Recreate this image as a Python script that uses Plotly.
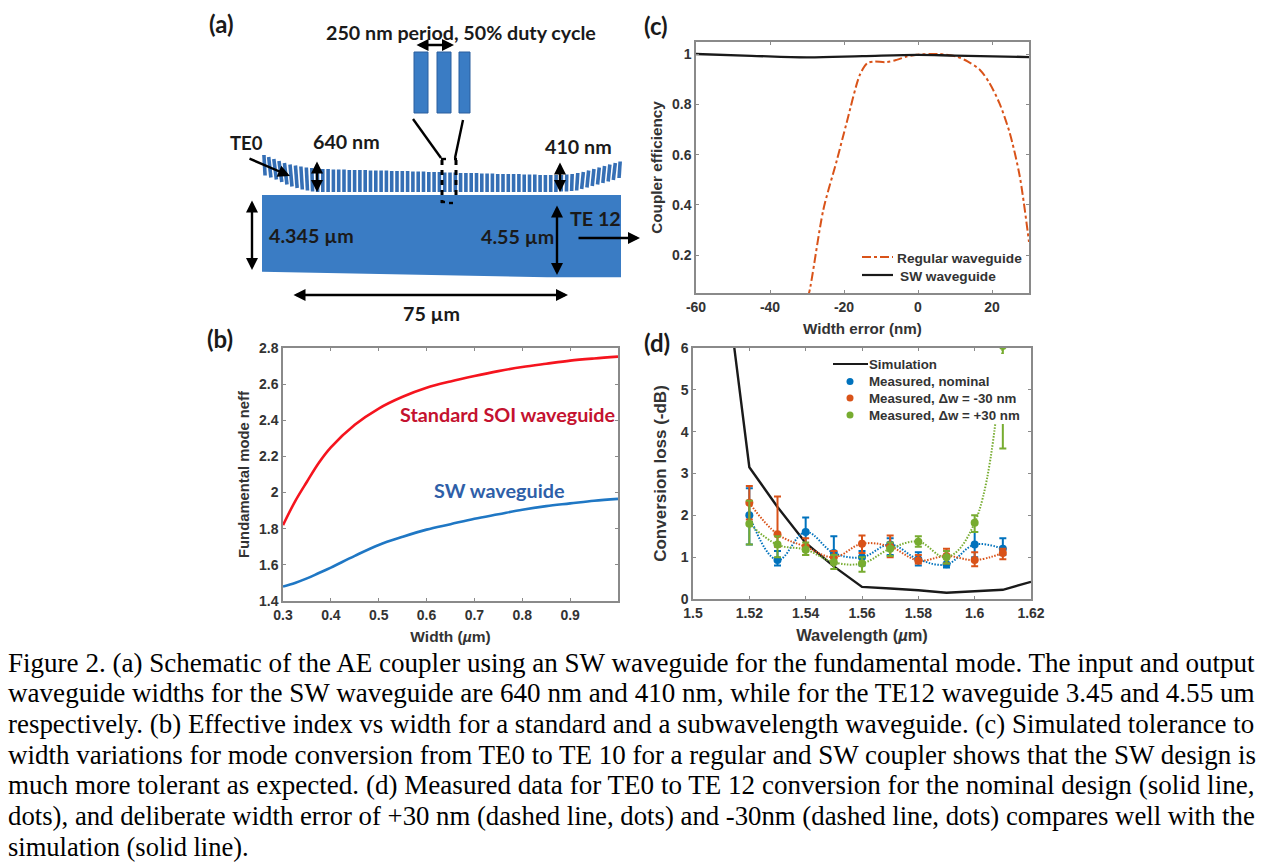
import plotly.graph_objects as go

PAGE_W = 1264
PAGE_H = 866

# (b) effective index vs width
width_um = [0.3, 0.325, 0.35, 0.375, 0.4, 0.45, 0.5, 0.55, 0.6, 0.65, 0.7, 0.75, 0.8, 0.85, 0.9, 0.95, 1.0]
neff_soi = [1.82, 1.95, 2.06, 2.165, 2.25, 2.375, 2.465, 2.53, 2.58, 2.615, 2.645, 2.672, 2.695, 2.713, 2.73, 2.742, 2.752]
neff_sw = [1.48, 1.5, 1.525, 1.555, 1.585, 1.65, 1.71, 1.755, 1.795, 1.825, 1.855, 1.88, 1.905, 1.925, 1.94, 1.955, 1.965]

# (c) coupler efficiency vs width error
err_regular = [-30, -29.4, -25.6, -22, -19.3, -15.7, -13.7, -12, -8.5, -5.8, -3.1, -0.4, 3.2, 5.9, 10.4, 13.5, 16.7, 19.3, 22, 24.8, 27.5, 30]
eff_regular = [0.03, 0.053, 0.38, 0.574, 0.726, 0.918, 0.964, 0.97, 0.968, 0.977, 0.99, 0.997, 1.0, 1.0, 0.99, 0.97, 0.938, 0.885, 0.805, 0.686, 0.514, 0.253]
err_sw = [-60, -45, -30, -15, 0, 10, 30]
eff_sw = [1.0, 0.993, 0.987, 0.992, 0.997, 0.994, 0.988]

# (d) conversion loss vs wavelength
wl_sim = [1.51, 1.52, 1.53, 1.54, 1.55, 1.56, 1.57, 1.58, 1.59, 1.6, 1.61, 1.62]
loss_sim = [8.5, 3.15, 2.2, 1.34, 0.78, 0.29, 0.25, 0.21, 0.15, 0.19, 0.22, 0.41]
wl_meas = [1.52, 1.53, 1.54, 1.55, 1.56, 1.57, 1.58, 1.59, 1.6, 1.61]
loss_nom = [2.0, 0.93, 1.6, 1.1, 1.0, 1.3, 0.95, 0.83, 1.3, 1.2]
nom_plus = [0.65, 0.22, 0.35, 0.4, 0.15, 0.15, 0.17, 0.17, 0.3, 0.25]
nom_minus = [0.7, 0.13, 0.35, 0.25, 0.2, 0.25, 0.15, 0.08, 0.3, 0.15]
loss_minus30 = [2.3, 1.55, 1.25, 1.0, 1.32, 1.25, 0.92, 1.03, 0.93, 1.1]
m30_plus = [0.4, 0.9, 0.2, 0.15, 0.2, 0.27, 0.13, 0.17, 0.19, 0.1]
m30_minus = [0.4, 0.3, 0.2, 0.15, 0.22, 0.25, 0.07, 0.18, 0.15, 0.15]
loss_plus30 = [1.8, 1.3, 1.18, 0.88, 0.85, 1.2, 1.37, 1.0, 1.82, 6.05]
p30_plus = [0.55, 0.2, 0.17, 0.17, 0.15, 0.15, 0.13, 0.15, 0.18, 0.3]
p30_minus = [0.5, 0.3, 0.13, 0.16, 0.2, 0.17, 0.12, 0.15, 0.22, 2.45]

# (a) grating teeth of the SW waveguide, read from the schematic (page pixels)
tooth_first_x = 264.5
tooth_pitch = 5.3
tooth_top = [155, 157, 159, 161, 163, 164.5, 165.5, 166.5, 167.5, 168, 168.5,
             169, 169, 169.5, 169.5, 169.5, 170, 170, 170, 170, 170.5,
             170.5, 170.5, 170.5, 171, 171, 171, 171, 171.5, 171.5, 171.5,
             172, 172, 172, 172.5, 172.5, 172.5, 173, 173, 173, 173,
             173.5, 173.5, 173.5, 174, 174, 174, 174, 174, 174.5, 174.5,
             174.5, 175, 175, 175, 175, 175, 174.5,
             174, 173, 172, 170.5, 169, 167.5, 166, 164.5, 163, 161.5]
tooth_bottom = [175.5, 177.5, 179.5, 182, 184.5, 186.5, 188, 189.5, 190.5, 191.5, 192] + [192] * 44 + [
    192, 191.5, 191.5, 191, 190.5, 189, 187.5, 186, 184.5, 183, 181.5, 180, 178]

BLUE = "#3a7cc4"
AXIS_GREY = "#8a8a8a"
TICK_TEXT = "#333333"
LABEL_FONT = "Lato"
AXIS_FONT = "Liberation Sans"
BLACK_LINE = "#1a1a1a"
ORANGE = "#d95319"
NOMINAL = "#0072bd"
GREEN = "#77ac30"


def dom_x(left, right):
    return [left / PAGE_W, right / PAGE_W]


def dom_y(top, bottom):
    return [1 - bottom / PAGE_H, 1 - top / PAGE_H]


def axis(domain, rng, vals, text, title, anchor, standoff, title_size):
    return dict(
        domain=domain, range=rng, anchor=anchor,
        tickmode="array", tickvals=vals, ticktext=text,
        ticks="inside", ticklen=3, tickcolor=AXIS_GREY, tickwidth=1,
        showline=True, mirror="allticks", linecolor=AXIS_GREY, linewidth=1.5,
        showgrid=False, zeroline=False,
        tickfont=dict(family=AXIS_FONT, size=14, color=TICK_TEXT, weight="bold"),
        title=dict(text=title, standoff=standoff,
                   font=dict(family=AXIS_FONT, size=title_size, color=TICK_TEXT, weight="bold")),
    )


fig = go.Figure()

# panel b
fig.add_trace(go.Scatter(x=width_um, y=neff_soi, mode="lines", xaxis="x", yaxis="y", showlegend=False,
                         line=dict(color="#f5141e", width=2.6, shape="spline")))
fig.add_trace(go.Scatter(x=width_um, y=neff_sw, mode="lines", xaxis="x", yaxis="y", showlegend=False,
                         line=dict(color="#1f77c4", width=2.6, shape="spline")))

# panel c
fig.add_trace(go.Scatter(x=err_regular, y=eff_regular, mode="lines", xaxis="x2", yaxis="y2",
                         name="Regular waveguide", showlegend=False,
                         line=dict(color=ORANGE, width=2, dash="dashdot", shape="spline", smoothing=0.8)))
fig.add_trace(go.Scatter(x=err_sw, y=eff_sw, mode="lines", xaxis="x2", yaxis="y2",
                         name="SW waveguide", showlegend=False,
                         line=dict(color=BLACK_LINE, width=2.4, shape="spline")))

# panel d
fig.add_trace(go.Scatter(x=wl_sim, y=loss_sim, mode="lines", xaxis="x3", yaxis="y3",
                         name="Simulation", showlegend=False,
                         line=dict(color=BLACK_LINE, width=2.4)))
measured = [
    ("Measured, nominal", NOMINAL, loss_nom, nom_plus, nom_minus),
    ("Measured, Δw = -30 nm", ORANGE, loss_minus30, m30_plus, m30_minus),
    ("Measured, Δw = +30 nm", GREEN, loss_plus30, p30_plus, p30_minus),
]
for name, color, loss, plus, minus in measured:
    fig.add_trace(go.Scatter(x=wl_meas, y=loss, mode="lines", xaxis="x3", yaxis="y3", showlegend=False,
                             line=dict(color=color, width=2, dash="1.5px,1.5px", shape="spline", smoothing=1.1)))
    fig.add_trace(go.Scatter(x=wl_meas, y=loss, mode="markers", xaxis="x3", yaxis="y3",
                             name=name, showlegend=False,
                             marker=dict(color=color, size=8),
                             error_y=dict(type="data", symmetric=False, array=plus, arrayminus=minus,
                                          color=color, thickness=2, width=3.5)))

# panel a: grating teeth, on a page-pixel overlay axis
teeth_x = []
teeth_y = []
for i in range(len(tooth_top)):
    x = tooth_first_x + i * tooth_pitch
    prev_b = tooth_bottom[max(i - 1, 0)]
    next_b = tooth_bottom[min(i + 1, len(tooth_bottom) - 1)]
    lean = (next_b - prev_b) / (2 * tooth_pitch) * 6
    teeth_x += [x - lean / 2, x + lean / 2, None]
    teeth_y += [tooth_top[i], tooth_bottom[i], None]
fig.add_trace(go.Scatter(x=teeth_x, y=teeth_y, mode="lines", xaxis="x5", yaxis="y5", showlegend=False,
                         hoverinfo="skip", line=dict(color="#356fb5", width=3.6)))

shapes = [
    dict(type="path", path="M262,195 L621,195 L621,277.3 L547,277.3 L262,271.7 Z",
         xref="x5", yref="y5", fillcolor=BLUE, line=dict(width=0)),
]
for left, right in [(414, 428), (437, 451), (459, 470)]:
    shapes.append(dict(type="rect", x0=left, x1=right, y0=52, y1=113, xref="x5", yref="y5",
                       fillcolor=BLUE, line=dict(color="#2b5f9e", width=1)))
for x0, y0, x1, y1, dash in [
    (413, 119, 441, 158, "solid"), (463, 120, 455, 158, "solid"),
    (442, 160, 442, 203, "5px,5px"), (456, 160, 456, 200, "5px,5px"),
    (441, 159, 446, 159, "solid"), (454, 159, 457, 159, "solid"),
    (441, 202, 445, 202, "solid"), (449, 203, 453, 203, "solid"),
]:
    shapes.append(dict(type="line", x0=x0, y0=y0, x1=x1, y1=y1, xref="x5", yref="y5",
                       line=dict(color="black", width=3 if dash != "solid" else 2.4, dash=dash)))

annotations = []


def arrow(x0, y0, x1, y1, both=True):
    annotations.append(dict(x=x1, y=y1, ax=x0, ay=y0, xref="x5", yref="y5", axref="x5", ayref="y5",
                            text="", showarrow=True, arrowhead=2, arrowsize=1, arrowwidth=2.4,
                            arrowcolor="black", arrowside="end+start" if both else "end"))


arrow(415, 45, 454, 45)
arrow(248, 158, 290, 176, both=False)
arrow(317, 160, 317, 192)
arrow(560, 161, 560, 192)
arrow(252, 199, 252, 270)
arrow(557, 204, 557, 275)
arrow(577, 238, 640, 238, both=False)
arrow(292, 295, 568, 295)


def label(text, x, y, size=19.7, color="#1a1a1a", family=LABEL_FONT, anchor="left", weight="bold"):
    annotations.append(dict(x=x, y=y, xref="x5", yref="y5", text=text, showarrow=False,
                            xanchor=anchor, yanchor="middle", align=anchor,
                            font=dict(family=family, size=size, color=color, weight=weight)))


def key_line(x0, x1, y, color, dash="solid"):
    shapes.append(dict(type="line", x0=x0, x1=x1, y0=y, y1=y, xref="x5", yref="y5",
                       line=dict(color=color, width=2.2, dash=dash)))


def key_dot(x, y, color):
    shapes.append(dict(type="circle", x0=x - 3.5, x1=x + 3.5, y0=y - 3.5, y1=y + 3.5, xref="x5", yref="y5",
                       fillcolor=color, line=dict(width=0)))


# panel c key, row spacing is tighter than a plotly legend allows
key_line(862, 893, 257, ORANGE, "dashdot")
key_line(862, 893, 275, BLACK_LINE)
label("Regular waveguide", 895, 258, size=13.7, color=TICK_TEXT, family=AXIS_FONT)
label("SW waveguide", 898, 276, size=13.7, color=TICK_TEXT, family=AXIS_FONT)

# panel d key, sits on a white box that hides the +30 nm curve
shapes.append(dict(type="rect", x0=829, x1=1027, y0=354, y1=424, xref="x5", yref="y5",
                   fillcolor="white", line=dict(width=0)))
key_line(833, 868, 364, BLACK_LINE)
key_dot(850, 381.5, NOMINAL)
key_dot(850, 398, ORANGE)
key_dot(850, 415, GREEN)
key_rows = [("Simulation", 364), ("Measured, nominal", 381.5), ("Measured, Δw = -30 nm", 398), ("Measured, Δw = +30 nm", 415)]
for text, y in key_rows:
    label(text, 867, y, size=13.3, color=TICK_TEXT, family=AXIS_FONT)

label("(a)", 207, 23, size=24)
label("(b)", 205, 338, size=24)
label("(c)", 642, 25, size=24)
label("(d)", 642, 342, size=24)
label("250 nm period, 50% duty cycle", 324, 32)
label("TE0", 228, 143, size=18.5)
label("640 nm", 311, 141)
label("410 nm", 543, 146)
label("4.345 µm", 267, 235)
label("4.55 µm", 479, 236)
label("TE 12", 568, 218)
label("75 µm", 401, 313)
label("Standard SOI waveguide", 398, 414, size=19.8, color="#c4122f")
label("SW waveguide", 432, 490, size=19.8, color="#2f5fa8")

caption_lines = [
    "Figure 2. (a) Schematic of the AE coupler using an SW waveguide for the fundamental mode. The input and output",
    "waveguide widths for the SW waveguide are 640 nm and 410 nm, while for the TE12 waveguide 3.45 and 4.55 um",
    "respectively. (b) Effective index vs width for a standard and a subwavelength waveguide. (c) Simulated tolerance to",
    "width variations for mode conversion from TE0 to TE 10 for a regular and SW coupler shows that the SW design is",
    "much more tolerant as expected. (d) Measured data for TE0 to TE 12 conversion for the nominal design (solid line,",
    "dots), and deliberate width error of +30 nm (dashed line, dots) and -30nm (dashed line, dots) compares well with the",
    "simulation (solid line).",
]
caption_y = [663, 693, 724, 755, 785, 816, 847]
caption_size = [27.05, 27.08, 26.93, 27.0, 27.08, 26.76, 26.5]
for line, y, size in zip(caption_lines, caption_y, caption_size):
    label(line, 6, y, size=size, color="black", family="Liberation Serif", weight="normal")

fig.update_layout(
    width=PAGE_W, height=PAGE_H, margin=dict(l=0, r=0, t=0, b=0, autoexpand=False),
    paper_bgcolor="white", plot_bgcolor="rgba(0,0,0,0)",
    showlegend=False,
    xaxis=axis(dom_x(283, 618), [0.3, 1.0], [0.3, 0.4, 0.5, 0.6, 0.7, 0.8, 0.9],
               ["0.3", "0.4", "0.5", "0.6", "0.7", "0.8", "0.9"], "Width (<i>µ</i>m)", "y", 10, 15.5),
    yaxis=axis(dom_y(348, 601), [1.4, 2.8], [1.4, 1.6, 1.8, 2, 2.2, 2.4, 2.6, 2.8],
               ["1.4", "1.6", "1.8", "2", "2.2", "2.4", "2.6", "2.8"], "Fundamental mode neff", "x", 6, 14.8),
    xaxis2=axis(dom_x(696, 1029), [-60, 30], [-60, -40, -20, 0, 20],
                ["-60", "-40", "-20", "0", "20"], "Width error (nm)", "y2", 10, 15.2),
    yaxis2=axis(dom_y(42, 293), [0.05, 1.048], [0.2, 0.4, 0.6, 0.8, 1],
                ["0.2", "0.4", "0.6", "0.8", "1"], "Coupler efficiency", "x2", 6, 15.3),
    xaxis3=axis(dom_x(693, 1031), [1.5, 1.62], [1.5, 1.52, 1.54, 1.56, 1.58, 1.6, 1.62],
                ["1.5", "1.52", "1.54", "1.56", "1.58", "1.6", "1.62"], "Wavelength (<i>µ</i>m)", "y3", 10, 16.5),
    yaxis3=axis(dom_y(348, 599), [0, 6], [0, 1, 2, 3, 4, 5, 6],
                ["0", "1", "2", "3", "4", "5", "6"], "Conversion loss (-dB)", "x3", 10, 17),
    xaxis5=dict(domain=[0, 1], range=[0, PAGE_W], visible=False, anchor="y5"),
    yaxis5=dict(domain=[0, 1], range=[PAGE_H, 0], visible=False, anchor="x5"),
    shapes=shapes,
    annotations=annotations,
)

fig.write_html("out.html", config=dict(displayModeBar=False),
               post_script="document.body.style.margin='0';")
